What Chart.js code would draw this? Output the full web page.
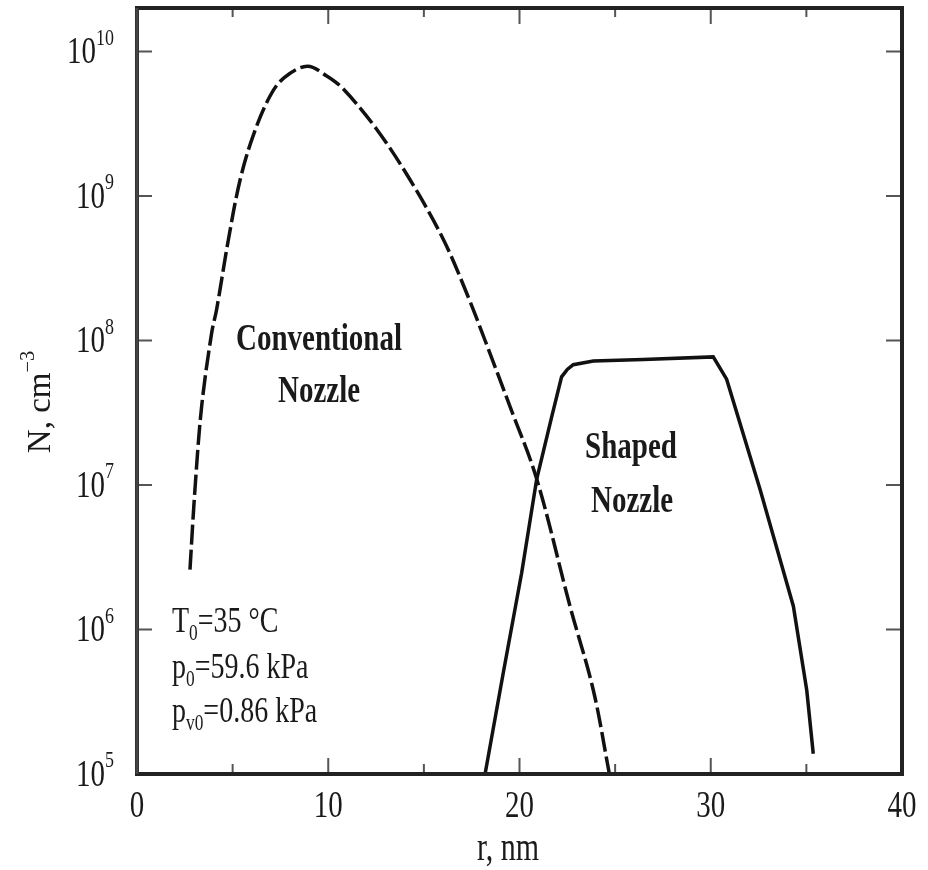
<!DOCTYPE html>
<html>
<head>
<meta charset="utf-8">
<script src="https://cdn.jsdelivr.net/npm/chart.js@4/dist/chart.umd.min.js"></script>
<style>
  html, body { margin: 0; padding: 0; background: #fff; }
  canvas { display: block; }
</style>
</head>
<body>
<canvas id="sizeChart" width="928" height="870"></canvas>
<script>
// droplet radius r (nm) and number density N (cm^-3)
const convR = [2.77, 3.03, 3.38, 3.9, 4.17, 4.78, 5.39, 6.08, 6.95, 7.7, 8.9, 9.9, 10.79, 12.53, 14.27, 16.02, 17.32, 18.2, 19.5, 20.9, 22.64, 23.86, 24.7];
const convN = [2.6e6, 9.3e6, 3.5e7, 1.12e8, 1.66e8, 5.0e8, 1.29e9, 2.63e9, 4.9e9, 6.6e9, 7.9e9, 6.8e9, 5.5e9, 2.9e9, 1.3e9, 5.0e8, 2.0e8, 1.0e8, 3.5e7, 1.1e7, 1.45e6, 3.8e5, 1.0e5];

const shapedR = [18.2, 19.15, 20.11, 20.9, 21.68, 22.2, 22.5, 22.81, 23.86, 26.47, 30.13, 30.83, 32.58, 34.32, 35.02, 35.36];
const shapedN = [1.0e5, 5.0e5, 2.45e6, 1.1e7, 2.95e7, 5.6e7, 6.3e7, 6.8e7, 7.2e7, 7.4e7, 7.7e7, 5.4e7, 9.3e6, 1.45e6, 3.8e5, 1.38e5];

const xMajor = [0, 10, 20, 30, 40];
const xMinor = [5, 15, 25, 35];
const yExp = [5, 6, 7, 8, 9, 10];

const SY = 1.3; // the scanned figure has tall, narrow lettering
const FONT = '"Liberation Serif", "Times New Roman", serif';

function rich(ctx, parts, x, y, size, align, bold) {
  const f = s => (bold ? 'bold ' : '') + s + 'px ' + FONT;
  let w = 0;
  parts.forEach(p => {
    ctx.font = f(p.s ? size * 0.62 : size);
    p.w = ctx.measureText(p.t).width;
    w += p.w;
  });
  let cx = align === 'right' ? x - w : align === 'center' ? x - w / 2 : x;
  ctx.save();
  ctx.translate(0, y);
  ctx.scale(1, SY);
  ctx.textBaseline = 'alphabetic';
  ctx.textAlign = 'left';
  parts.forEach(p => {
    ctx.font = f(p.s ? size * 0.62 : size);
    const dy = p.s === 'sup' ? -size * 0.5 : p.s === 'sub' ? size * 0.22 : 0;
    ctx.fillText(p.t, cx, dy);
    cx += p.w;
  });
  ctx.restore();
}

const framePlugin = {
  id: 'frame',
  afterDraw(chart) {
    const ctx = chart.ctx;
    const xs = chart.scales.x, ys = chart.scales.y;
    const a = chart.chartArea;
    ctx.save();
    ctx.fillStyle = '#1a1a1a';
    ctx.strokeStyle = '#555';
    ctx.lineWidth = 2;

    // ticks pointing inward
    ctx.beginPath();
    xMajor.forEach(v => {
      const px = xs.getPixelForValue(v);
      ctx.moveTo(px, a.bottom); ctx.lineTo(px, a.bottom - 16);
      ctx.moveTo(px, a.top); ctx.lineTo(px, a.top + 16);
    });
    xMinor.forEach(v => {
      const px = xs.getPixelForValue(v);
      ctx.moveTo(px, a.bottom); ctx.lineTo(px, a.bottom - 10);
      ctx.moveTo(px, a.top); ctx.lineTo(px, a.top + 9);
    });
    yExp.forEach(e => {
      const py = ys.getPixelForValue(Math.pow(10, e));
      ctx.moveTo(a.left, py); ctx.lineTo(a.left + 15, py);
      ctx.moveTo(a.right, py); ctx.lineTo(a.right - 16, py);
    });
    ctx.stroke();

    // frame
    ctx.strokeStyle = '#222';
    ctx.lineWidth = 4;
    ctx.strokeRect(a.left, a.top, a.right - a.left, a.bottom - a.top);
    ctx.strokeStyle = '#444';
    ctx.lineWidth = 3;
    ctx.beginPath(); ctx.moveTo(a.left, a.top); ctx.lineTo(a.left, a.bottom); ctx.stroke();

    // tick labels
    xMajor.forEach(v => {
      rich(ctx, [{ t: String(v) }], xs.getPixelForValue(v), a.bottom + 43, 29, 'center');
    });
    yExp.forEach(e => {
      const py = ys.getPixelForValue(Math.pow(10, e));
      rich(ctx, [{ t: '10' }, { t: String(e), s: 'sup' }], 114, py + 12, 29, 'right');
    });

    // axis titles
    rich(ctx, [{ t: 'r, nm' }], 508, 860, 30, 'center');
    ctx.save();
    ctx.translate(50, 402);
    ctx.scale(1, SY);
    ctx.rotate(-Math.PI / 2);
    rich(ctx, [{ t: 'N, cm' }, { t: '\u22123', s: 'sup' }], 0, 0, 33 / SY, 'center');
    ctx.restore();

    // annotations
    rich(ctx, [{ t: 'Conventional' }], 319, 350, 29, 'center', true);
    rich(ctx, [{ t: 'Nozzle' }], 319, 402, 29, 'center', true);
    rich(ctx, [{ t: 'Shaped' }], 631, 458, 29, 'center', true);
    rich(ctx, [{ t: 'Nozzle' }], 632, 512, 29, 'center', true);
    rich(ctx, [{ t: 'T' }, { t: '0', s: 'sub' }, { t: '=35 \u00b0C' }], 172, 632, 28);
    rich(ctx, [{ t: 'p' }, { t: '0', s: 'sub' }, { t: '=59.6 kPa' }], 172, 678, 28);
    rich(ctx, [{ t: 'p' }, { t: 'v0', s: 'sub' }, { t: '=0.86 kPa' }], 172, 722, 28);
    ctx.restore();
  }
};

new Chart(document.getElementById('sizeChart'), {
  type: 'scatter',
  data: {
    datasets: [{
      label: 'Conventional Nozzle',
      data: convR.map((r, i) => ({ x: r, y: convN[i] })),
      showLine: true,
      borderColor: '#111',
      borderWidth: 3.5,
      borderDash: [20, 5],
      pointRadius: 0,
      tension: 0.35
    }, {
      label: 'Shaped Nozzle',
      data: shapedR.map((r, i) => ({ x: r, y: shapedN[i] })),
      showLine: true,
      borderColor: '#111',
      borderWidth: 3.5,
      pointRadius: 0,
      tension: 0
    }]
  },
  options: {
    responsive: false,
    animation: false,
    devicePixelRatio: 1,
    layout: { padding: { left: 137, top: 8, right: 26, bottom: 96 } },
    plugins: { legend: { display: false }, tooltip: { enabled: false } },
    scales: {
      x: { type: 'linear', min: 0, max: 40, display: false },
      y: { type: 'logarithmic', min: 1e5, max: 2e10, display: false }
    }
  },
  plugins: [framePlugin]
});
</script>
</body>
</html>
